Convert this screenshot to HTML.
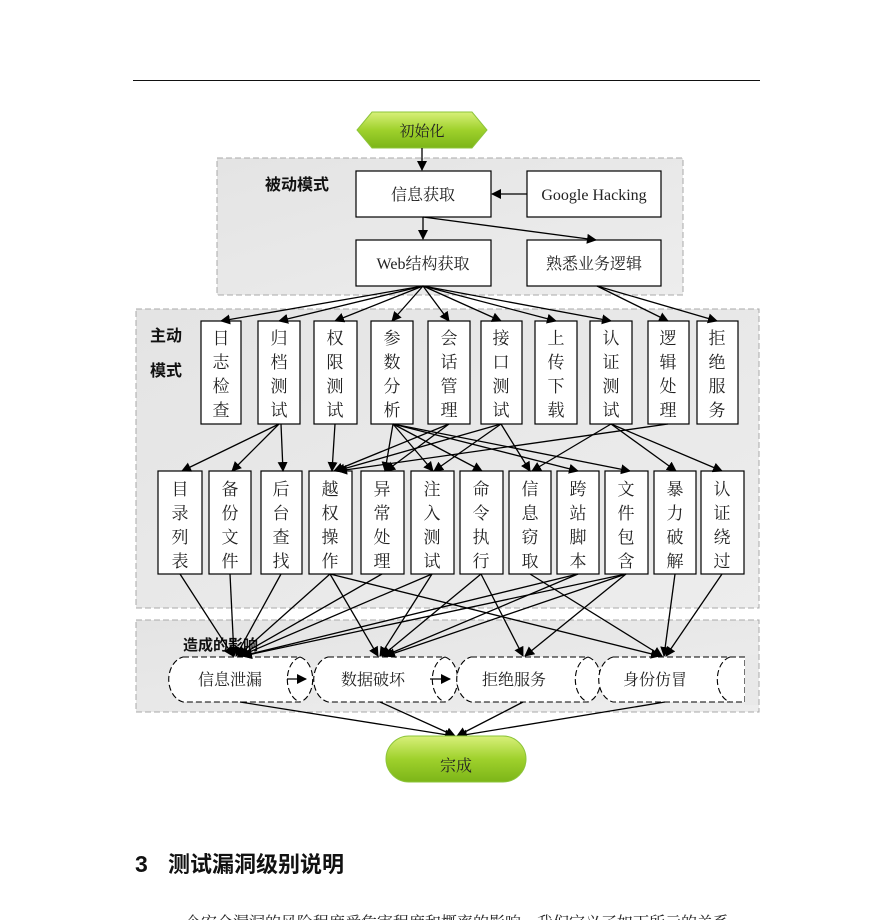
<!DOCTYPE html>
<html><head><meta charset="utf-8"><style>
html,body{margin:0;padding:0;background:#fff;width:893px;height:920px;overflow:hidden}
svg{display:block}
text{font-family:"Liberation Serif","Noto Serif CJK SC","Noto Sans CJK SC",serif;fill:#222}
.b{font-family:"Liberation Sans","Noto Sans CJK SC",sans-serif;font-weight:bold;fill:#111}
</style></head><body>
<svg width="893" height="920" viewBox="0 0 893 920" xmlns="http://www.w3.org/2000/svg">
<defs>
<marker id="a" markerWidth="10" markerHeight="10" refX="9" refY="5" orient="auto" markerUnits="userSpaceOnUse"><path d="M0,0 L10,5 L0,10 z" fill="#000"/></marker>
<linearGradient id="g" x1="0" y1="0" x2="0" y2="1"><stop offset="0" stop-color="#d8f07a"/><stop offset="0.5" stop-color="#9fd12c"/><stop offset="1" stop-color="#7cb518"/></linearGradient>
<linearGradient id="bg" x1="0" y1="0" x2="1" y2="1"><stop offset="0" stop-color="#e4e4e4"/><stop offset="1" stop-color="#ededed"/></linearGradient>
</defs>
<line x1="133" y1="80.5" x2="760" y2="80.5" stroke="#111" stroke-width="1"/>
<rect x="217" y="158" width="466" height="137" fill="url(#bg)" stroke="#aaa" stroke-dasharray="6,3"/>
<rect x="136" y="309" width="623" height="299" fill="url(#bg)" stroke="#aaa" stroke-dasharray="6,3"/>
<rect x="136" y="620" width="623" height="92" fill="url(#bg)" stroke="#aaa" stroke-dasharray="6,3"/>
<polygon points="357,130 372,112 472,112 487,130 472,148 372,148" fill="url(#g)" stroke="#8cc43a"/>
<text x="422" y="136" font-size="15" text-anchor="middle">初始化</text>
<text x="265" y="190" font-size="16" class="b">被动模式</text>
<g fill="#fff" stroke="#000" stroke-width="1.2">
<rect x="356" y="171" width="135" height="46"/><rect x="527" y="171" width="134" height="46"/>
<rect x="356" y="240" width="135" height="46"/><rect x="527" y="240" width="134" height="46"/>
</g>
<text x="423" y="200" font-size="16" text-anchor="middle">信息获取</text>
<text x="594" y="200" font-size="16" text-anchor="middle">Google Hacking</text>
<text x="423" y="269" font-size="16" text-anchor="middle">Web结构获取</text>
<text x="594" y="269" font-size="16" text-anchor="middle">熟悉业务逻辑</text>
<g stroke="#000" stroke-width="1.3" fill="none" marker-end="url(#a)">
<line x1="422" y1="148" x2="422" y2="170"/>
<line x1="527" y1="194" x2="492" y2="194"/>
<line x1="423" y1="217" x2="423" y2="239"/>
<line x1="423" y1="217" x2="596" y2="240"/>
</g>
<text x="150" y="341" font-size="16" class="b">主动</text>
<text x="150" y="376" font-size="16" class="b">模式</text>
<g fill="#fff" stroke="#000" stroke-width="1.2">
<rect x="201" y="321" width="40" height="103"/><rect x="258" y="321" width="42" height="103"/>
<rect x="314" y="321" width="43" height="103"/><rect x="371" y="321" width="42" height="103"/>
<rect x="428" y="321" width="42" height="103"/><rect x="481" y="321" width="41" height="103"/>
<rect x="535" y="321" width="42" height="103"/><rect x="590" y="321" width="42" height="103"/>
<rect x="648" y="321" width="41" height="103"/><rect x="697" y="321" width="41" height="103"/>
</g>
<g font-size="17" text-anchor="middle">
<text x="221" y="344">日</text><text x="221" y="368">志</text><text x="221" y="392">检</text><text x="221" y="416">查</text>
<text x="279" y="344">归</text><text x="279" y="368">档</text><text x="279" y="392">测</text><text x="279" y="416">试</text>
<text x="335" y="344">权</text><text x="335" y="368">限</text><text x="335" y="392">测</text><text x="335" y="416">试</text>
<text x="392" y="344">参</text><text x="392" y="368">数</text><text x="392" y="392">分</text><text x="392" y="416">析</text>
<text x="449" y="344">会</text><text x="449" y="368">话</text><text x="449" y="392">管</text><text x="449" y="416">理</text>
<text x="501" y="344">接</text><text x="501" y="368">口</text><text x="501" y="392">测</text><text x="501" y="416">试</text>
<text x="556" y="344">上</text><text x="556" y="368">传</text><text x="556" y="392">下</text><text x="556" y="416">载</text>
<text x="611" y="344">认</text><text x="611" y="368">证</text><text x="611" y="392">测</text><text x="611" y="416">试</text>
<text x="668" y="344">逻</text><text x="668" y="368">辑</text><text x="668" y="392">处</text><text x="668" y="416">理</text>
<text x="717" y="344">拒</text><text x="717" y="368">绝</text><text x="717" y="392">服</text><text x="717" y="416">务</text>
</g>
<g stroke="#000" stroke-width="1.3" fill="none" marker-end="url(#a)">
<line x1="423" y1="286" x2="221" y2="321"/><line x1="423" y1="286" x2="279" y2="321"/>
<line x1="423" y1="286" x2="335" y2="321"/><line x1="423" y1="286" x2="392" y2="321"/>
<line x1="423" y1="286" x2="449" y2="321"/><line x1="423" y1="286" x2="501" y2="321"/>
<line x1="423" y1="286" x2="556" y2="321"/><line x1="423" y1="286" x2="611" y2="321"/>
<line x1="597" y1="286" x2="668" y2="321"/><line x1="597" y1="286" x2="717" y2="321"/>
</g>
<g fill="#fff" stroke="#000" stroke-width="1.2">
<rect x="158" y="471" width="44" height="103"/><rect x="209" y="471" width="42" height="103"/>
<rect x="261" y="471" width="41" height="103"/><rect x="309" y="471" width="43" height="103"/>
<rect x="361" y="471" width="43" height="103"/><rect x="411" y="471" width="43" height="103"/>
<rect x="460" y="471" width="43" height="103"/><rect x="509" y="471" width="42" height="103"/>
<rect x="557" y="471" width="42" height="103"/><rect x="605" y="471" width="43" height="103"/>
<rect x="654" y="471" width="42" height="103"/><rect x="701" y="471" width="43" height="103"/>
</g>
<g font-size="17" text-anchor="middle">
<text x="180" y="495">目</text><text x="180" y="519">录</text><text x="180" y="543">列</text><text x="180" y="567">表</text>
<text x="230" y="495">备</text><text x="230" y="519">份</text><text x="230" y="543">文</text><text x="230" y="567">件</text>
<text x="281" y="495">后</text><text x="281" y="519">台</text><text x="281" y="543">查</text><text x="281" y="567">找</text>
<text x="330" y="495">越</text><text x="330" y="519">权</text><text x="330" y="543">操</text><text x="330" y="567">作</text>
<text x="382" y="495">异</text><text x="382" y="519">常</text><text x="382" y="543">处</text><text x="382" y="567">理</text>
<text x="432" y="495">注</text><text x="432" y="519">入</text><text x="432" y="543">测</text><text x="432" y="567">试</text>
<text x="481" y="495">命</text><text x="481" y="519">令</text><text x="481" y="543">执</text><text x="481" y="567">行</text>
<text x="530" y="495">信</text><text x="530" y="519">息</text><text x="530" y="543">窃</text><text x="530" y="567">取</text>
<text x="578" y="495">跨</text><text x="578" y="519">站</text><text x="578" y="543">脚</text><text x="578" y="567">本</text>
<text x="626" y="495">文</text><text x="626" y="519">件</text><text x="626" y="543">包</text><text x="626" y="567">含</text>
<text x="675" y="495">暴</text><text x="675" y="519">力</text><text x="675" y="543">破</text><text x="675" y="567">解</text>
<text x="722" y="495">认</text><text x="722" y="519">证</text><text x="722" y="543">绕</text><text x="722" y="567">过</text>
</g>
<g stroke="#000" stroke-width="1.3" fill="none" marker-end="url(#a)">
<line x1="279" y1="424" x2="182" y2="471"/><line x1="279" y1="424" x2="232" y2="471"/><line x1="281" y1="424" x2="283" y2="471"/>
<line x1="335" y1="424" x2="332" y2="471"/>
<line x1="393" y1="424" x2="385" y2="471"/><line x1="393" y1="424" x2="433" y2="471"/><line x1="393" y1="424" x2="482" y2="471"/>
<line x1="393" y1="424" x2="578" y2="471"/><line x1="393" y1="424" x2="630" y2="471"/>
<line x1="449" y1="424" x2="334" y2="471"/><line x1="449" y1="424" x2="386" y2="471"/>
<line x1="501" y1="424" x2="336" y2="471"/><line x1="501" y1="424" x2="434" y2="471"/><line x1="501" y1="424" x2="530" y2="471"/>
<line x1="611" y1="424" x2="532" y2="471"/><line x1="611" y1="424" x2="676" y2="471"/><line x1="611" y1="424" x2="722" y2="471"/>
<line x1="668" y1="424" x2="338" y2="471"/>
</g>
<text x="183" y="650" font-size="15" class="b">造成的影响</text>
<g stroke="#000" stroke-width="1.1" stroke-dasharray="6,3">
<path d="M183,657 L300,657 A16,23 0 0 1 300,702 L183,702 A18,23 0 0 1 183,657 z" fill="#fff"/>
<path d="M328,657 L445,657 A16,23 0 0 1 445,702 L328,702 A18,23 0 0 1 328,657 z" fill="#fff"/>
<path d="M471,657 L588,657 A16,23 0 0 1 588,702 L471,702 A18,23 0 0 1 471,657 z" fill="#fff"/>
<path d="M613,657 L745,657 L745,702 L613,702 A18,23 0 0 1 613,657 z" fill="#fff"/>
<path d="M300,657 A16,23 0 0 0 300,702" fill="none"/>
<path d="M445,657 A16,23 0 0 0 445,702" fill="none"/>
<path d="M588,657 A16,23 0 0 0 588,702" fill="none"/>
<path d="M730,657 A16,23 0 0 0 730,702" fill="none"/>
</g>
<rect x="745" y="655" width="13" height="50" fill="#e9e9e9"/>
<g font-size="16" text-anchor="middle">
<text x="230" y="685">信息泄漏</text><text x="373" y="685">数据破坏</text><text x="514" y="685">拒绝服务</text><text x="655" y="685">身份仿冒</text>
</g>
<g stroke="#000" stroke-width="1.3" fill="none" marker-end="url(#a)">
<line x1="287" y1="679" x2="306" y2="679"/><line x1="430" y1="679" x2="450" y2="679"/>
<line x1="180" y1="574" x2="233" y2="656"/><line x1="230" y1="574" x2="234" y2="656"/><line x1="281" y1="574" x2="236" y2="656"/>
<line x1="330" y1="574" x2="238" y2="656"/><line x1="330" y1="574" x2="378" y2="656"/><line x1="330" y1="574" x2="660" y2="656"/>
<line x1="382" y1="574" x2="239" y2="656"/>
<line x1="432" y1="574" x2="240" y2="656"/><line x1="432" y1="574" x2="380" y2="656"/>
<line x1="481" y1="574" x2="382" y2="656"/><line x1="481" y1="574" x2="523" y2="656"/>
<line x1="530" y1="574" x2="662" y2="656"/>
<line x1="578" y1="574" x2="242" y2="656"/><line x1="578" y1="574" x2="384" y2="656"/>
<line x1="626" y1="574" x2="243" y2="656"/><line x1="626" y1="574" x2="386" y2="656"/><line x1="626" y1="574" x2="525" y2="656"/>
<line x1="675" y1="574" x2="664" y2="656"/><line x1="722" y1="574" x2="666" y2="656"/>
<line x1="240" y1="702" x2="454" y2="736"/><line x1="380" y1="702" x2="455" y2="736"/>
<line x1="523" y1="702" x2="457" y2="736"/><line x1="665" y1="702" x2="458" y2="736"/>
</g>
<rect x="386" y="736" width="140" height="46" rx="23" fill="url(#g)" stroke="#8cc43a"/>
<text x="456" y="771" font-size="16" text-anchor="middle">宗成</text>
<text x="135" y="872" font-size="23" class="b">3</text>
<text x="168" y="872" font-size="22" class="b">测试漏洞级别说明</text>
<text x="185" y="928" font-size="16">个安全漏洞的风险程度受危害程度和概率的影响，我们定义了如下所示的关系</text>
</svg>
</body></html>
